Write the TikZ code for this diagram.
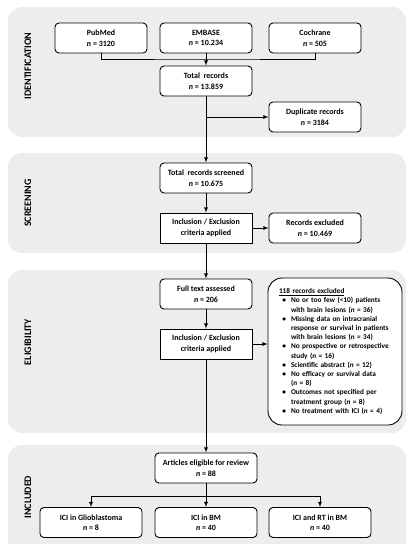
\documentclass[tikz,border=0pt]{standalone}
\usepackage{fontspec}
\setmainfont{Carlito}
\usetikzlibrary{positioning, calc}

\tikzset{
  panel/.style={fill=black!7, rounded corners=14pt},
  stage/.style={rotate=90, font=\bfseries\fontsize{10}{12}\selectfont},
  rbox/.style={draw, line width=0.9pt, fill=white, rounded corners=4pt,
    minimum width=92pt, minimum height=30pt, align=center, inner sep=1pt,
    font=\bfseries\fontsize{8}{10.5}\selectfont},
  sbox/.style={rbox, sharp corners},
  wbox/.style={rbox, minimum width=102pt},
  link/.style={->, >=latex, line width=0.8pt}
}

\begin{document}
\begin{tikzpicture}[x=1pt, y=-1pt]
  \useasboundingbox (0,0) rectangle (412,550);

  % stage panels
  \fill[panel] (8,7) rectangle (406,137);
  \fill[panel] (8,153) rectangle (406,253);
  \fill[panel] (8,270) rectangle (406,433);
  \begin{scope}
    \clip (0,0) rectangle (412,543);
    \fill[panel] (8,445) rectangle (406,575);
  \end{scope}

  \node[stage] (lid)  at (28,66)  {IDENTIFICATION};
  \node[stage] (lscr) at (28,203) {SCREENING};
  \node[stage] (lelg) at (28,342) {ELIGIBILITY};
  \node[stage] (linc) at (28,497) {INCLUDED};

  % identification
  \node[rbox] (pubmed)   at (101,38) {PubMed\\\textit{n} = 3120};
  \node[rbox] (embase)   at (206,38) {EMBASE\\\textit{n} = 10.234};
  \node[rbox] (cochrane) at (315,38) {Cochrane\\\textit{n} = 505};
  \node[rbox] (total)    at (206,81) {Total\ \ records\\\textit{n} = 13.859};
  \node[rbox] (dupl)     at (315,117) {Duplicate records\\\textit{n} = 3184};

  % screening
  \node[rbox] (screened) at (206,178) {Total\ \ records screened\\\textit{n} = 10.675};
  \node[sbox] (incla)    at (206,228) {Inclusion / Exclusion\\criteria applied};
  \node[rbox] (excla)    at (315,228) {Records excluded\\\textit{n} = 10.469};

  % eligibility
  \node[rbox] (fulltext) at (206,294) {Full text assessed\\\textit{n} = 206};
  \node[sbox] (inclb)    at (206,344) {Inclusion / Exclusion\\criteria applied};
  \node[draw, line width=0.9pt, fill=white, rounded corners=14pt,
        text width=122pt, inner xsep=6pt, minimum height=147pt,
        font=\bfseries\fontsize{7.3}{9.2}\selectfont] (reasons) at (335,351.5) {%
    \raggedright\hspace*{5pt}\underline{118 records excluded}
    \begin{list}{\textbullet}{\setlength\leftmargin{17pt}\setlength\labelsep{5pt}%
      \setlength\labelwidth{7pt}\setlength\itemsep{0pt}\setlength\parsep{0pt}%
      \setlength\topsep{0pt}\setlength\partopsep{0pt}}
      \item No or too few (<10) patients\\with brain lesions (\textit{n} = 36)
      \item Missing data on intracranial\\response or survival in patients\\with brain lesions (\textit{n} = 34)
      \item No prospective or retrospective\\study (\textit{n} = 16)
      \item Scientific abstract (\textit{n} = 12)
      \item No efficacy or survival data\\(\textit{n} = 8)
      \item Outcomes not specified per\\treatment group (\textit{n} = 8)
      \item No treatment with ICI (\textit{n} = 4)
    \end{list}};

  % included
  \node[wbox] (eligible) at (206,468) {Articles eligible for review\\\textit{n} = 88};
  \node[wbox] (glio)     at (91,522.5)  {ICI in Glioblastoma\\\textit{n} = 8};
  \node[wbox] (icibm)    at (206,522.5) {ICI in BM\\\textit{n} = 40};
  \node[wbox] (rtbm)     at (320,522.5) {ICI and RT in BM\\\textit{n} = 40};

  % connectors
  \coordinate (jsrc) at (206,59);
  \coordinate (jdup) at (206,117);
  \coordinate (jinc) at (206,496);
  \draw[line width=0.8pt] (pubmed) |- (jsrc) -| (cochrane);
  \draw[link] (embase) -- (total);
  \draw[link] (total) -- (screened);
  \draw[link] (jdup) -- (dupl);
  \draw[link] (screened) -- (incla);
  \draw[link] (incla) -- (excla);
  \draw[link] (incla) -- (fulltext);
  \draw[link] (fulltext) -- (inclb);
  \draw[link] (inclb.east) -- (inclb.east -| reasons.west);
  \draw[link] (inclb) -- (eligible);
  \draw[link] (eligible) -- (icibm);
  \draw[link] (jinc) -| (glio);
  \draw[link] (jinc) -| (rtbm);
\end{tikzpicture}
\end{document}
